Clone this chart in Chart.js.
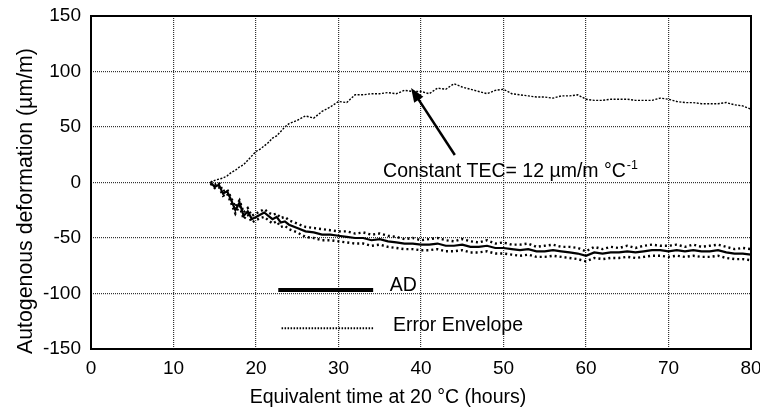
<!DOCTYPE html>
<html><head><meta charset="utf-8">
<script src="https://cdn.jsdelivr.net/npm/chart.js@4/dist/chart.umd.min.js"></script>
<style>html,body{margin:0;padding:0;background:#fff;overflow:hidden}canvas{display:block}</style>
</head><body>
<canvas id="c" width="760" height="412"></canvas>
<script>
// ---- data ----
const hours = [14.5,15,15.5,16,16.5,17,17.5,18,18.5,19,19.5,20,20.5,21,21.5,22,22.5,23,23.5,24,
  25,26,27,28,29,30,31,32,33,34,35,36,37,38,39,40,41,42,43,44,45,46,47,48,49,50,
  51,52,53,54,55,56,57,58,59,60,61,62,63,64,65,66,67,68,69,70,71,72,73,74,75,76,77,78,79,80];
const tecDeformation = [0,2,3,4,6,9,11,14,16,20,24,28,30,33,36,40,42,46,50,53,
  56,60,58,64,68,73,72,79,79,80,80,81,80,83,82,82,80,85,84,89,86,84,82,80,83,84,
  80,79,78,77,77,76,78,78,79,75,74,74,75,75,75,74,74,74,76,75,73,72,72,71,71,71,72,70,69,66];
const adDeformation = [0,-4,-2,-10,-8,-16,-25,-18,-30,-26,-33,-31,-29,-27,-30,-33,-31,-36,-35,-38,
  -41,-44,-45,-47,-47,-48,-49,-50,-50,-52,-51,-53,-54,-55,-55,-56,-56,-55,-57,-57,-56,-58,-58,-57,-59,-59,
  -60,-61,-60,-62,-62,-61,-62,-63,-64,-66,-63,-64,-63,-63,-62,-63,-62,-61,-61,-62,-61,-62,-61,-62,-62,-61,-63,-64,-64,-65];
const envelopeUpper = [1,-2,0,-8,-6,-14,-22,-16,-27,-23,-30,-28,-26,-24,-27,-29,-28,-32,-31,-34,
  -37,-40,-41,-42,-43,-44,-44,-46,-45,-47,-46,-48,-49,-51,-50,-52,-51,-50,-52,-53,-51,-53,-54,-52,-55,-54,
  -56,-56,-55,-58,-57,-56,-58,-58,-59,-62,-58,-60,-58,-59,-57,-59,-57,-56,-57,-57,-56,-58,-56,-58,-57,-56,-58,-60,-59,-60];
const envelopeLower = [-1,-5,-4,-12,-10,-19,-28,-21,-33,-29,-36,-34,-32,-31,-34,-37,-35,-40,-39,-42,
  -45,-49,-50,-52,-52,-53,-54,-55,-55,-57,-56,-58,-59,-60,-60,-61,-61,-60,-62,-62,-61,-63,-63,-62,-64,-64,
  -65,-66,-65,-67,-67,-66,-67,-68,-69,-71,-68,-69,-68,-68,-67,-68,-67,-66,-66,-67,-66,-67,-66,-67,-67,-66,-68,-69,-69,-70];
const xTicks = [0,10,20,30,40,50,60,70,80];
const yTicks = [-150,-100,-50,0,50,100,150];
const xTitle = 'Equivalent time at 20 °C (hours)';
const yTitle = 'Autogenous deformation (µm/m)';
const tecLabel = 'Constant TEC= 12 µm/m °C';
const tecSup = '-1';
const legendLabels = ['AD', 'Error Envelope'];

const FONT = '"Liberation Sans", Arial, Helvetica, sans-serif';
const pts = arr => hours.map((h, i) => ({x: h, y: arr[i]}));

// annotation placement in data units
const place = {
  arrowTail: [44.1, 24.8], arrowTip: [38.8, 85.1],
  tecText: [35.4, 5],
  adLine: [22.7, 34.2, -96.8], adText: [36.2, -97.5],
  envLine: [23.1, 34.2, -131.4], envText: [36.6, -133.5],
  xTitle: [36, 54], yTitle: [31.7, -16.7]
};

const annot = {
  id: 'annot',
  afterDraw(chart) {
    const {ctx, chartArea: a, scales: {x, y}} = chart;
    const px = v => x.getPixelForValue(v), py = v => y.getPixelForValue(v);
    ctx.save();
    ctx.setLineDash([]);
    ctx.strokeStyle = '#000'; ctx.lineWidth = 2;
    ctx.strokeRect(a.left, a.top, a.right - a.left, a.bottom - a.top);
    ctx.fillStyle = '#000';
    // legend AD
    ctx.lineWidth = 4;
    ctx.beginPath(); ctx.moveTo(px(place.adLine[0]), py(place.adLine[2])); ctx.lineTo(px(place.adLine[1]), py(place.adLine[2])); ctx.stroke();
    // legend envelope
    ctx.lineWidth = 2; ctx.setLineDash([1.5, 1.5]);
    ctx.beginPath(); ctx.moveTo(px(place.envLine[0]), py(place.envLine[2])); ctx.lineTo(px(place.envLine[1]), py(place.envLine[2])); ctx.stroke();
    ctx.setLineDash([]);
    ctx.font = '19.5px ' + FONT; ctx.textBaseline = 'alphabetic'; ctx.textAlign = 'left';
    ctx.fillText(legendLabels[0], px(place.adText[0]), py(place.adText[1]));
    ctx.fillText(legendLabels[1], px(place.envText[0]), py(place.envText[1]));
    // TEC label
    const tx = px(place.tecText[0]), ty = py(place.tecText[1]);
    ctx.fillText(tecLabel, tx, ty);
    const w = ctx.measureText(tecLabel).width;
    ctx.font = '12.5px ' + FONT;
    ctx.fillText(tecSup, tx + w + 1, ty - 8);
    // arrow
    const x0 = px(place.arrowTail[0]), y0 = py(place.arrowTail[1]);
    const x1 = px(place.arrowTip[0]), y1 = py(place.arrowTip[1]);
    const ang = Math.atan2(y1 - y0, x1 - x0);
    const L = 14, W = 5.5;
    ctx.lineWidth = 2.5;
    ctx.beginPath(); ctx.moveTo(x0, y0); ctx.lineTo(x1 - Math.cos(ang) * (L - 2), y1 - Math.sin(ang) * (L - 2)); ctx.stroke();
    ctx.beginPath();
    ctx.moveTo(x1, y1);
    ctx.lineTo(x1 - L * Math.cos(ang) + W * Math.sin(ang), y1 - L * Math.sin(ang) - W * Math.cos(ang));
    ctx.lineTo(x1 - L * Math.cos(ang) - W * Math.sin(ang), y1 - L * Math.sin(ang) + W * Math.cos(ang));
    ctx.closePath(); ctx.fill();
    // axis titles
    ctx.font = '19.5px ' + FONT; ctx.textAlign = 'center';
    ctx.fillText(xTitle, px(place.xTitle[0]), a.bottom + place.xTitle[1]);
    ctx.save();
    ctx.translate(place.yTitle[0], py(place.yTitle[1]));
    ctx.rotate(-Math.PI / 2);
    ctx.font = '21.3px ' + FONT;
    ctx.fillText(yTitle, 0, 0);
    ctx.restore();
    ctx.restore();
  }
};

const gridCfg = {color: '#333', lineWidth: 1.2, drawTicks: false};
new Chart(document.getElementById('c'), {
  type: 'line',
  data: {
    datasets: [
      {label: 'TEC', data: pts(tecDeformation), borderColor: '#000', borderWidth: 1.4, borderDash: [2, 1.5], pointRadius: 0, tension: 0},
      {label: 'Envelope upper', data: pts(envelopeUpper), borderColor: '#000', borderWidth: 2.4, borderDash: [2, 3], pointRadius: 0, tension: 0},
      {label: 'Envelope lower', data: pts(envelopeLower), borderColor: '#000', borderWidth: 2.4, borderDash: [2, 3], pointRadius: 0, tension: 0},
      {label: 'AD', data: pts(adDeformation), borderColor: '#000', borderWidth: 2.2, pointRadius: 0, tension: 0}
    ]
  },
  options: {
    responsive: false, animation: false,
    layout: {padding: {top: 16, right: 9, left: 0, bottom: 0}},
    plugins: {legend: {display: false}, tooltip: {enabled: false}},
    scales: {
      x: {
        type: 'linear', min: 0, max: 80,
        afterBuildTicks: s => { s.ticks = xTicks.map(v => ({value: v})); },
        afterFit: s => { s.height = 63; s.paddingLeft = 0; s.paddingRight = 0; },
        ticks: {font: {family: FONT, size: 19}, color: '#000', padding: 8, maxRotation: 0},
        grid: gridCfg, border: {display: false, dash: [1, 1]}
      },
      y: {
        type: 'linear', min: -150, max: 150,
        afterBuildTicks: s => { s.ticks = yTicks.map(v => ({value: v})); },
        afterFit: s => { s.width = 91; s.paddingTop = 0; s.paddingBottom = 0; },
        ticks: {font: {family: FONT, size: 19}, color: '#000', padding: 10},
        grid: gridCfg, border: {display: false, dash: [1, 1]}
      }
    }
  },
  plugins: [annot]
});
</script>
</body></html>
